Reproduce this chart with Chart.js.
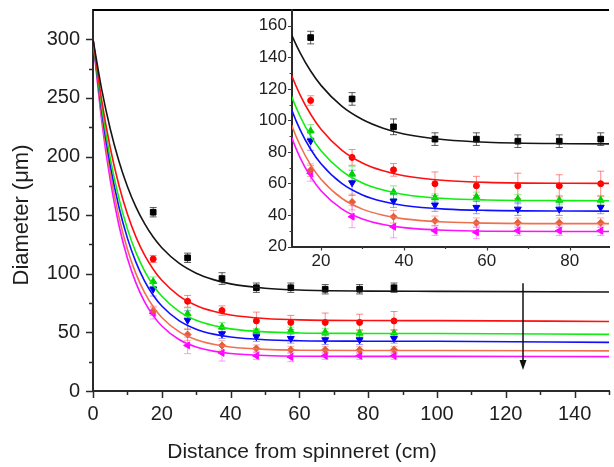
<!DOCTYPE html>
<html>
<head>
<meta charset="utf-8">
<title>Diameter vs distance from spinneret</title>
<script src="https://cdn.jsdelivr.net/npm/chart.js@4.4.1/dist/chart.umd.min.js"></script>
<style>
    html, body { margin: 0; padding: 0; background: #fff; overflow: hidden; }
    #wrap { position: relative; width: 614px; height: 467px; }
    #main { position: absolute; left: 0; top: 0; }
    #inset { position: absolute; left: 250px; top: 0; }
</style>
</head>
<body>
<div id="wrap">
    <canvas id="main" width="614" height="467"></canvas>
    <canvas id="inset" width="364" height="290"></canvas>
</div>
<script>
// Measured distances (cm) shared by every series.
const distances = [17.5, 27.5, 37.5, 47.5, 57.5, 67.5, 77.5, 87.5];

// Measured diameters (um) and their error bars, one pair per series.
const blackVals = [152.5, 113.6, 95.9, 88.1, 88.1, 86.8, 86.8, 88.1];
const blackErr = [4, 4, 5, 4, 4, 4, 4, 4];
const redVals = [112.6, 76.5, 68.6, 59.8, 58.5, 58.5, 58.5, 59.8];
const redErr = [3, 5, 4, 7.5, 6, 8, 7, 8];
const greenVals = [93.3, 65.9, 54.5, 50.9, 51.5, 50.1, 49.4, 49.4];
const greenErr = [4, 5, 4, 2.5, 3, 3, 3, 3];
const blueVals = [87.0, 60.4, 48.8, 46.3, 44.8, 43.7, 43.7, 44.8];
const blueErr = [6, 8, 4, 4, 4, 4, 4, 4];
const orangeVals = [68.4, 48.2, 38.9, 36.3, 35.1, 35.1, 35.1, 35.1];
const orangeErr = [4, 5, 4, 3, 3, 3, 3, 3];
const magentaVals = [66.4, 38.9, 32.5, 30.0, 29.0, 30.0, 30.0, 30.0];
const magentaErr = [5, 7, 7, 3, 4, 3, 3, 3];

// Fitted decay curves at these distances.
const fitX = [0, 2.5, 5, 7.5, 10, 12.5, 15, 17.5, 20, 25, 30, 35, 40, 50, 60, 80, 100, 150];
const blackFit = [300, 257.7, 223.7, 196.4, 174.4, 156.8, 142.7, 131.3, 122.2, 109.0, 100.5, 95.0, 91.4, 87.7, 86.1, 85.2, 85.0, 84.5];
const redFit = [300, 248.3, 207.7, 175.9, 150.9, 131.3, 115.9, 103.9, 94.4, 81.2, 73.0, 68.0, 64.9, 61.9, 60.7, 60.1, 60.0, 59.3];
const greenFit = [300, 242.9, 198.7, 164.7, 138.3, 118.0, 102.3, 90.2, 80.8, 68.0, 60.3, 55.8, 53.0, 50.4, 49.5, 49.1, 49.0, 48.3];
const blueFit = [300, 239.3, 192.9, 157.4, 130.4, 109.7, 93.8, 81.7, 72.5, 60.0, 52.7, 48.5, 46.0, 43.7, 42.9, 42.5, 42.4, 41.5];
const orangeFit = [300, 235.1, 186.1, 149.0, 121.0, 99.9, 83.9, 71.8, 62.7, 50.6, 43.7, 39.8, 37.5, 35.5, 34.8, 34.5, 34.5, 34.2];
const magentaFit = [300, 231.3, 180.0, 141.8, 113.2, 92.0, 76.1, 64.3, 55.4, 43.9, 37.5, 34.0, 32.0, 30.3, 29.7, 29.5, 29.5, 29.3];

// Tick positions for the main plot and the inset.
const mainXTicks = [0, 10, 20, 30, 40, 50, 60, 70, 80, 90, 100, 110, 120, 130, 140, 150];
const mainYTicks = [0, 25, 50, 75, 100, 125, 150, 175, 200, 225, 250, 275, 300];
const insetXTicks = [20, 30, 40, 50, 60, 70, 80];
const insetYTicks = [20, 30, 40, 50, 60, 70, 80, 90, 100, 110, 120, 130, 140, 150, 160];

// Trend arrow (distance, from diameter, to diameter).
const arrowX = 125;
const arrowFrom = 92;
const arrowTo = 18;

const xTitle = 'Distance from spinneret (cm)';
const yTitle = 'Diameter (\u03bcm)';

const FONT = '"Liberation Sans", Arial, Helvetica, sans-serif';
Chart.defaults.font.family = FONT;
Chart.defaults.color = '#1e1e1e';

// Style of each series: line colour, marker, and a lighter error bar colour.
const series = [
    { vals: blackVals, err: blackErr, fit: blackFit, line: '#151515', fill: '#000000', errColor: 'rgba(40,40,40,0.75)', style: 'rect', r: 4, rot: 0 },
    { vals: redVals, err: redErr, fit: redFit, line: '#ff1010', fill: '#ff0000', errColor: 'rgba(255,40,40,0.55)', style: 'circle', r: 3, rot: 0 },
    { vals: greenVals, err: greenErr, fit: greenFit, line: '#10ee10', fill: '#00d000', errColor: 'rgba(40,230,40,0.55)', style: 'triangle', r: 4, rot: 0 },
    { vals: blueVals, err: blueErr, fit: blueFit, line: '#1010ff', fill: '#0000ee', errColor: 'rgba(60,60,255,0.5)', style: 'triangle', r: 4, rot: 180 },
    { vals: orangeVals, err: orangeErr, fit: orangeFit, line: '#f0704e', fill: '#e55a3a', errColor: 'rgba(240,110,80,0.55)', style: 'rectRot', r: 3.5, rot: 0 },
    { vals: magentaVals, err: magentaErr, fit: magentaFit, line: '#ff10ff', fill: '#ff00ff', errColor: 'rgba(255,60,255,0.5)', style: 'triangle', r: 4, rot: 270 }
];

function buildDatasets() {
    const sets = [];
    series.forEach(s => {
        sets.push({
            data: fitX.map((x, i) => ({ x: x, y: s.fit[i] })),
            showLine: true,
            borderColor: s.line,
            borderWidth: 1.6,
            pointRadius: 0,
            cubicInterpolationMode: 'monotone'
        });
    });
    series.forEach(s => {
        sets.push({
            data: distances.map((x, i) => ({ x: x, y: s.vals[i] })),
            errors: s.err,
            errorColor: s.errColor,
            showLine: false,
            pointStyle: s.style,
            pointRotation: s.rot,
            pointRadius: s.r,
            backgroundColor: s.fill,
            borderColor: s.fill,
            borderWidth: 1
        });
    });
    return sets;
}

// Draws vertical error bars with caps under the markers.
const errorBars = {
    id: 'errorBars',
    beforeDatasetsDraw(chart) {
        const { ctx, chartArea: a, scales: { x, y } } = chart;
        ctx.save();
        ctx.beginPath();
        ctx.rect(a.left, a.top, a.right - a.left, a.bottom - a.top);
        ctx.clip();
        ctx.lineWidth = 1;
        chart.data.datasets.forEach(ds => {
            if (!ds.errors) return;
            ctx.strokeStyle = ds.errorColor;
            ds.data.forEach((p, j) => {
                const px = x.getPixelForValue(p.x);
                const top = y.getPixelForValue(p.y + ds.errors[j]);
                const bot = y.getPixelForValue(p.y - ds.errors[j]);
                ctx.beginPath();
                ctx.moveTo(px, top); ctx.lineTo(px, bot);
                ctx.moveTo(px - 3.5, top); ctx.lineTo(px + 3.5, top);
                ctx.moveTo(px - 3.5, bot); ctx.lineTo(px + 3.5, bot);
                ctx.stroke();
            });
        });
        ctx.restore();
    }
};

// Outward tick marks (long for labelled ticks, short for the rest) and the top frame line.
const tickMarks = {
    id: 'tickMarks',
    afterDraw(chart, args, opts) {
        const { ctx, chartArea: a, scales: { x, y } } = chart;
        ctx.save();
        ctx.strokeStyle = opts.color;
        ctx.lineWidth = opts.width;
        ctx.beginPath();
        x.ticks.forEach(t => {
            const px = Math.round(x.getPixelForValue(t.value)) + 0.5;
            const len = t.label !== '' ? opts.major : opts.minor;
            ctx.moveTo(px, a.bottom);
            ctx.lineTo(px, a.bottom + len);
        });
        y.ticks.forEach(t => {
            const py = Math.round(y.getPixelForValue(t.value)) + 0.5;
            const len = t.label !== '' ? opts.major : opts.minor;
            ctx.moveTo(a.left, py);
            ctx.lineTo(a.left - len, py);
        });
        ctx.stroke();
        if (opts.frameTop) {
            ctx.lineWidth = 2;
            ctx.strokeStyle = '#000';
            ctx.beginPath();
            ctx.moveTo(a.left, a.top);
            ctx.lineTo(a.right, a.top);
            ctx.stroke();
        }
        ctx.restore();
    }
};

// Downward arrow marking the trend across the series.
const trendArrow = {
    id: 'trendArrow',
    afterDatasetsDraw(chart) {
        const { ctx, scales: { x, y } } = chart;
        const px = x.getPixelForValue(arrowX);
        const y0 = y.getPixelForValue(arrowFrom);
        const y1 = y.getPixelForValue(arrowTo);
        ctx.save();
        ctx.strokeStyle = '#111';
        ctx.fillStyle = '#111';
        ctx.lineWidth = 1.5;
        ctx.beginPath();
        ctx.moveTo(px, y0);
        ctx.lineTo(px, y1 - 8);
        ctx.stroke();
        ctx.beginPath();
        ctx.moveTo(px - 3.5, y1 - 10);
        ctx.lineTo(px + 3.5, y1 - 10);
        ctx.lineTo(px, y1);
        ctx.closePath();
        ctx.fill();
        ctx.restore();
    }
};

// Axis titles of the main plot.
const axisTitles = {
    id: 'axisTitles',
    afterDraw(chart) {
        const ctx = chart.ctx;
        ctx.save();
        ctx.fillStyle = '#1e1e1e';
        ctx.textAlign = 'center';
        ctx.textBaseline = 'middle';
        ctx.font = '21px ' + FONT;
        ctx.fillText(xTitle, 302, 452);
        ctx.translate(22, 215);
        ctx.rotate(-Math.PI / 2);
        ctx.font = '22px ' + FONT;
        ctx.fillText(yTitle, 0, 0);
        ctx.restore();
    }
};

function axis(min, max, tickList, labelStep, fontSize, padding, fitSize, horizontal) {
    return {
        type: 'linear',
        min: min,
        max: max,
        afterBuildTicks: s => { s.ticks = tickList.map(v => ({ value: v })); },
        afterFit: s => {
            if (horizontal) { s.height = fitSize; s.paddingLeft = 0; s.paddingRight = 0; }
            else { s.width = fitSize; s.paddingTop = 0; s.paddingBottom = 0; }
        },
        ticks: {
            callback: v => (v % labelStep === 0 ? String(v) : ''),
            font: { size: fontSize },
            color: '#1e1e1e',
            padding: padding,
            maxRotation: 0,
            autoSkip: false
        },
        grid: { display: false, drawTicks: false },
        border: { display: true, color: '#2a2a2a', width: 2 }
    };
}

// Main plot.
new Chart(document.getElementById('main'), {
    type: 'scatter',
    data: { datasets: buildDatasets() },
    options: {
        responsive: false,
        animation: false,
        devicePixelRatio: 1,
        layout: { padding: { top: 10, left: 0, right: 0, bottom: 0 } },
        scales: {
            x: axis(0, 150, mainXTicks, 20, 20, 11, 76, true),
            y: axis(0, 325, mainYTicks, 50, 20, 13, 93, false)
        },
        plugins: {
            legend: { display: false },
            tooltip: { enabled: false },
            tickMarks: { color: '#2a2a2a', width: 1.5, major: 7, minor: 4, frameTop: true }
        }
    },
    plugins: [errorBars, tickMarks, trendArrow, axisTitles]
});

// Inset zoomed on the measured range.
new Chart(document.getElementById('inset'), {
    type: 'scatter',
    data: { datasets: buildDatasets() },
    options: {
        responsive: false,
        animation: false,
        devicePixelRatio: 1,
        layout: { padding: { top: 10, left: 0, right: 0, bottom: 0 } },
        scales: {
            x: axis(13, 89.5, insetXTicks, 20, 17, 5, 43.5, true),
            y: axis(20, 170, insetYTicks, 20, 17, 5, 42, false)
        },
        plugins: {
            legend: { display: false },
            tooltip: { enabled: false },
            tickMarks: { color: '#3a3a3a', width: 1.2, major: 4, minor: 2.5, frameTop: false }
        }
    },
    plugins: [errorBars, tickMarks]
});
</script>
</body>
</html>
